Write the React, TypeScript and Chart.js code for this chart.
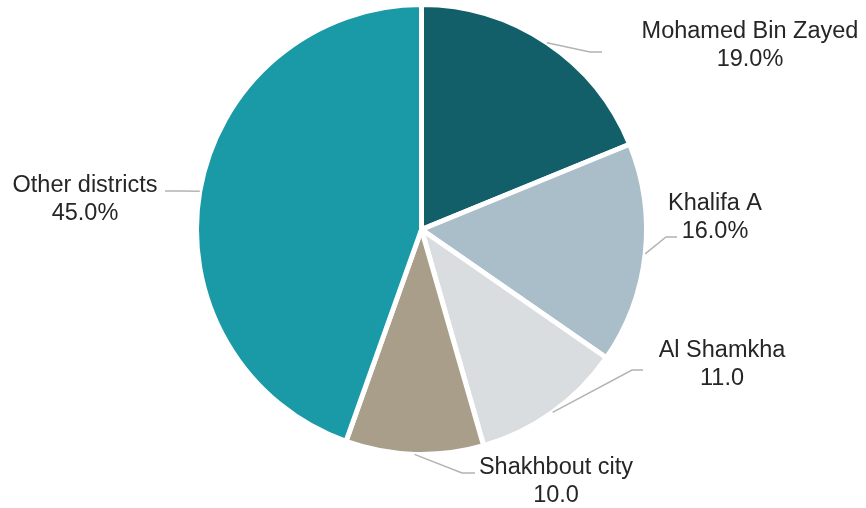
import React, { useEffect, useRef } from "react";
import { Chart, registerables } from "chart.js";

Chart.register(...registerables);

const categories = ["Mohamed Bin Zayed", "Khalifa A", "Al Shamkha", "Shakhbout city", "Other districts"];
const shares = [19, 16, 11, 10, 45];
const valueLabels = ["19.0%", "16.0%", "11.0", "10.0", "45.0%"];
const sliceColors = ["#135f69", "#a9bec8", "#d9dde0", "#a89e8a", "#1a9aa6"];

// label layout relative to the pie centre (elbow, line end, text centre x, first baseline)
const labelLayout = [
  { elbow: [168.5, -177.5], end: [180.5, -177.5], tx: 328.5, ty: -191.5 },
  { elbow: [244.5, 7.5], end: [255.5, 7.5], tx: 293.5, ty: -19.5 },
  { elbow: [210.5, 140.5], end: [221.5, 140.5], tx: 300.5, ty: 127.5 },
  { elbow: [40.5, 243.5], end: [53.5, 243.5], tx: 134.5, ty: 244.5 },
  { elbow: [-239.5, -38.5], end: [-256.5, -38.5], tx: -336.5, ty: -37.5 },
];

const leaderPlugin = {
  id: "leaderLabels",
  afterDatasetsDraw(chart: any) {
    const ctx = chart.ctx as CanvasRenderingContext2D;
    const meta = chart.getDatasetMeta(0);
    ctx.save();
    meta.data.forEach((arc: any, i: number) => {
      const { x, y, startAngle, endAngle, outerRadius } = arc.getProps(
        ["x", "y", "startAngle", "endAngle", "outerRadius"],
        true
      );
      const mid = (startAngle + endAngle) / 2;
      const sx = x + Math.cos(mid) * outerRadius;
      const sy = y + Math.sin(mid) * outerRadius;
      const L = labelLayout[i];
      ctx.strokeStyle = "#b3b3b3";
      ctx.lineWidth = 1.5;
      ctx.beginPath();
      ctx.moveTo(sx, sy);
      ctx.lineTo(x + L.elbow[0], y + L.elbow[1]);
      ctx.lineTo(x + L.end[0], y + L.end[1]);
      ctx.stroke();
      ctx.fillStyle = "#262626";
      ctx.font = '23.5px "Liberation Sans", Arial, sans-serif';
      ctx.textAlign = "center";
      ctx.textBaseline = "alphabetic";
      ctx.fillText(categories[i], x + L.tx, y + L.ty);
      ctx.fillText(valueLabels[i], x + L.tx, y + L.ty + 28);
    });
    ctx.restore();
  },
};

export default function App() {
  const ref = useRef<HTMLCanvasElement>(null);
  useEffect(() => {
    if (!ref.current) return;
    const chart = new Chart(ref.current, {
      type: "pie",
      data: {
        labels: categories,
        datasets: [
          {
            data: shares,
            backgroundColor: sliceColors,
            borderColor: "#ffffff",
            borderWidth: 5,
          },
        ],
      },
      options: {
        responsive: false,
        animation: false,
        radius: 225,
        layout: { padding: { left: 0, right: 23, top: 0, bottom: 49 } },
        plugins: {
          legend: { display: false },
          tooltip: { enabled: false },
        },
      } as any,
      plugins: [leaderPlugin],
    });
    return () => chart.destroy();
  }, []);
  return (
    <div style={{ position: "fixed", left: 0, top: 0, width: 866, height: 508, background: "#fff" }}>
      <canvas ref={ref} width={866} height={508} style={{ display: "block", width: 866, height: 508 }} />
    </div>
  );
}
